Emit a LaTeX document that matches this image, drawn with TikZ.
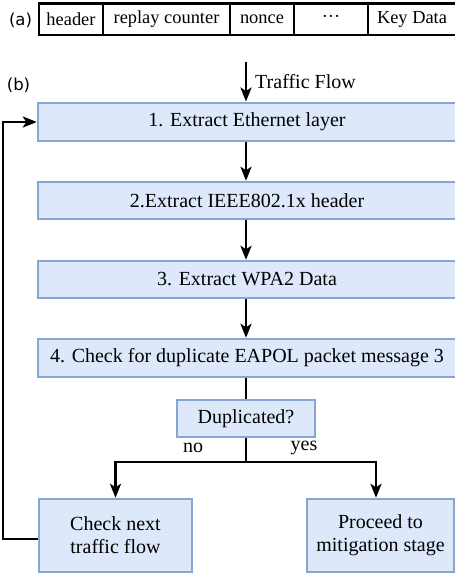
\documentclass[tikz,border=0pt]{standalone}
\usepackage{fontspec}
\setmainfont{Liberation Serif}
\newfontfamily\tagfont{DejaVu Sans}
\usetikzlibrary{arrows.meta,positioning}
\definecolor{boxfill}{HTML}{DDE8FA}
\definecolor{boxline}{HTML}{88A6D4}
\tikzset{
  cell/.style={draw=black, line width=2.6pt, inner sep=0pt, minimum height=31.5pt,
    font=\fontsize{18.4}{22}\selectfont},
  flowbox/.style={draw=boxline, fill=boxfill, line width=2.4pt, inner sep=0pt,
    font=\fontsize{20}{23}\selectfont, align=center},
  conn/.style={draw=black, line width=2.6pt},
  arr/.style={conn, -{Stealth[length=14pt,width=11pt,inset=3.5pt]}},
  tag/.style={font=\tagfont\fontsize{16.5}{19}\selectfont, inner sep=0pt},
  lbl/.style={font=\fontsize{20}{23}\selectfont, inner sep=0pt}
}
\begin{document}
\begin{tikzpicture}[x=1pt,y=-1pt]
\useasboundingbox (0,0) rectangle (455,574);
% (a) packet layout
\node[tag] (ta) at (20.5,20) {(a)};
\node[cell, minimum width=64pt] (c1) at (71,19.25) {header};
\node[cell, minimum width=127pt] (c2) at (166.5,19.25) {replay counter};
\node[cell, minimum width=64pt] (c3) at (262,19.25) {nonce};
\node[cell, minimum width=74pt] (c4) at (331,19.25) {\textperiodcentered\textperiodcentered\textperiodcentered};
\node[cell, minimum width=88pt] (c5) at (412,19.25) {Key Data};
% (b) flowchart
\node[tag] (tb) at (18.5,85) {(b)};
\node[flowbox, minimum width=418pt, minimum height=38.5pt] (b1) at (247,122) {1. Extract Ethernet layer};
\node[flowbox, minimum width=418pt, minimum height=37pt] (b2) at (247,200.5) {2.Extract IEEE802.1x header};
\node[flowbox, minimum width=418pt, minimum height=37pt] (b3) at (247,279.5) {3. Extract WPA2 Data};
\node[flowbox, minimum width=418pt, minimum height=38pt] (b4) at (247,358) {4. Check for duplicate EAPOL packet message 3};
\node[flowbox, minimum width=138pt, minimum height=37pt] (dup) at (246,418.5) {Duplicated?};
\node[flowbox, minimum width=153pt, minimum height=73pt] (chk) at (115.5,535.5) {Check next\\traffic flow};
\node[flowbox, minimum width=147pt, minimum height=73pt] (pro) at (380.5,535.5) {Proceed to\\mitigation stage};
% connectors
\coordinate (tf) at (246,62);
\draw[arr] (tf) -- (tf |- b1.north);
\node[lbl, anchor=west] (tft) at (255,82) {Traffic Flow};
\draw[arr] (b1.south -| tf) -- (b2.north -| tf);
\draw[arr] (b2.south -| tf) -- (b3.north -| tf);
\draw[arr] (b3.south -| tf) -- (b4.north -| tf);
\draw[conn] (b4.south -| tf) -- (dup.north -| tf);
\coordinate (j) at (246,462);
\draw[conn] (dup.south) -- (j);
\draw[arr] (j) -| (chk.north);
\draw[arr] (j) -| ([xshift=-4.5pt]pro.north);
\node[lbl] (no) at (193,448) {no};
\node[lbl] (yes) at (304,448) {yes};
\coordinate (lp) at (3,539);
\draw[arr] ([yshift=-3.5pt]chk.west) -- (lp) |- (b1.west);
\end{tikzpicture}
\end{document}
